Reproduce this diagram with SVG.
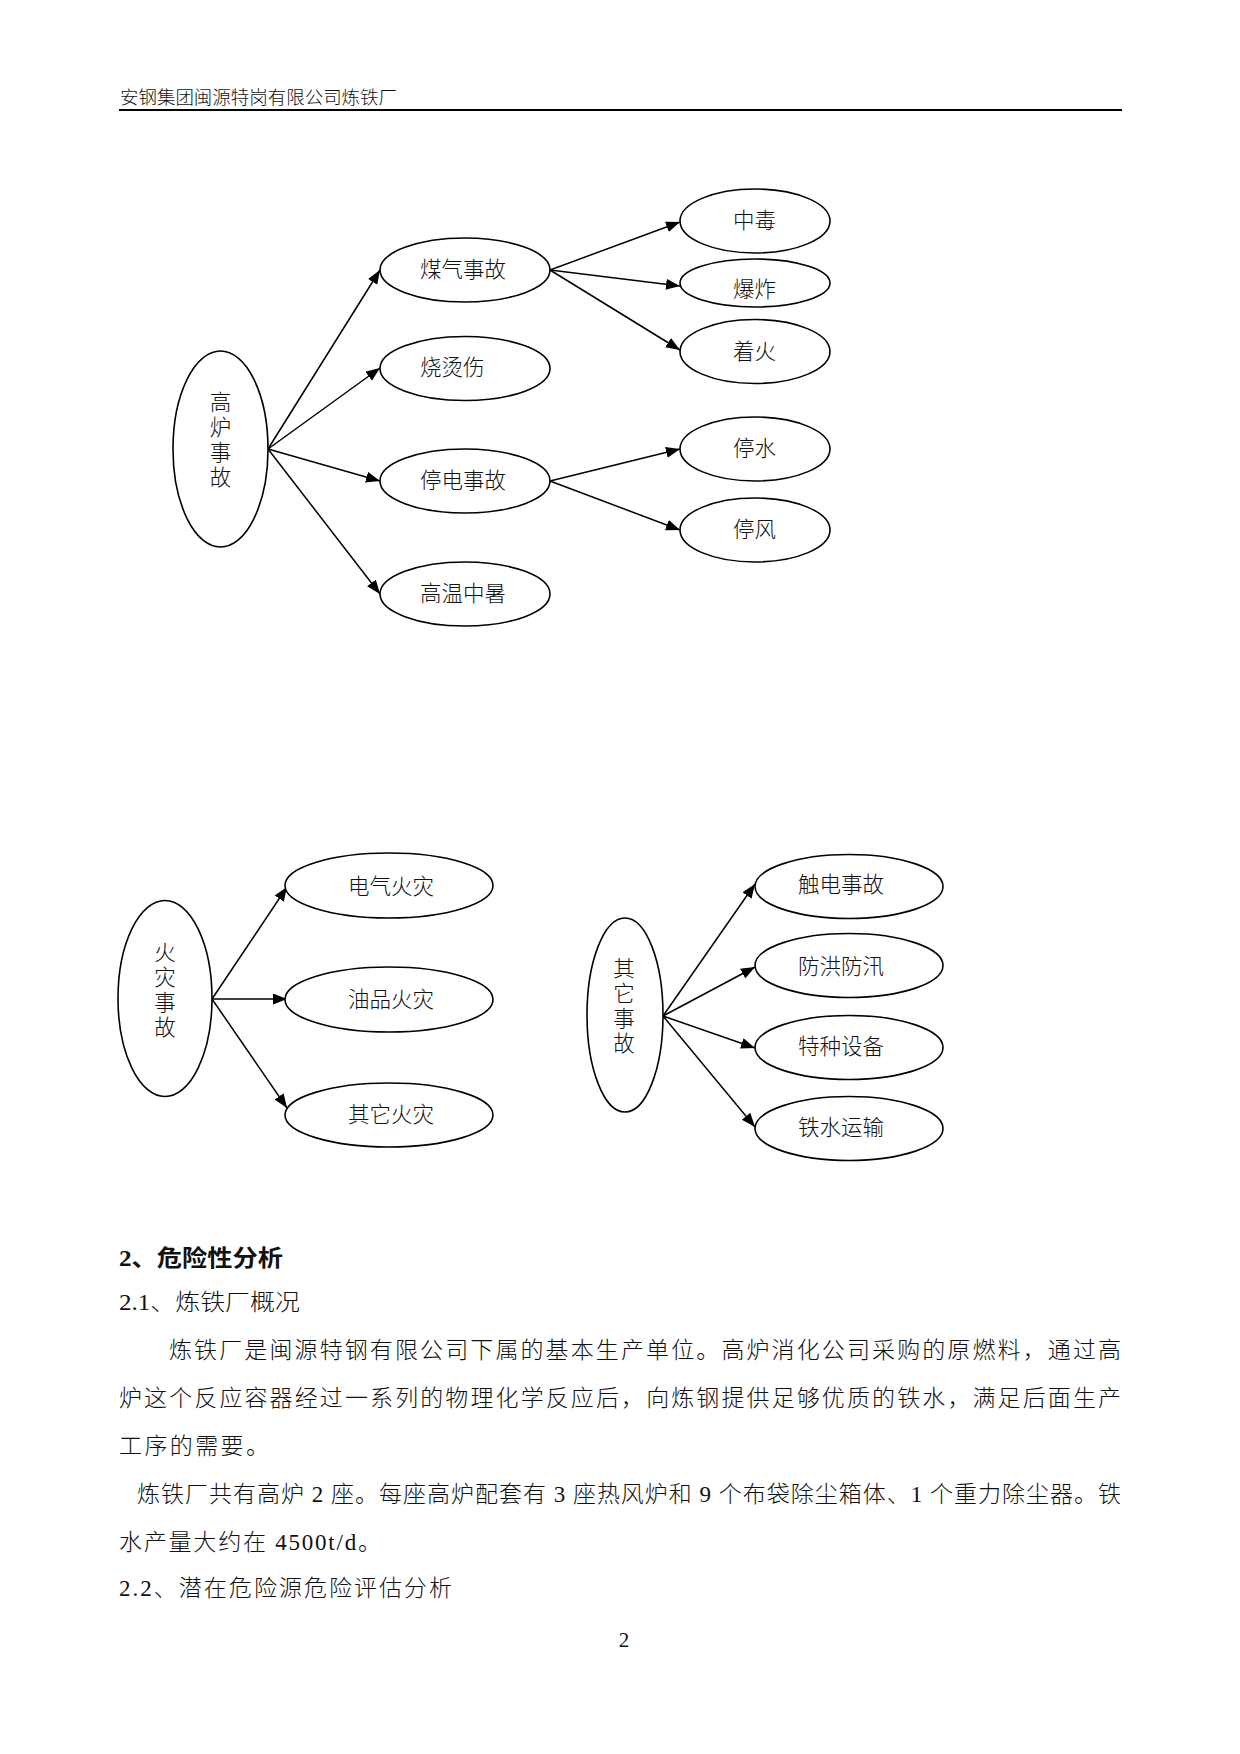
<svg xmlns="http://www.w3.org/2000/svg" width="1240" height="1754" viewBox="0 0 1240 1754">
<defs>
<style>
.bg{fill:#ffffff}
.node ellipse{fill:#ffffff;stroke:#000000;stroke-width:1.6}
.node text{font-family:"Liberation Serif","Noto Sans CJK SC",serif;font-size:21.5px;font-weight:300;fill:#111111}
.vt{text-anchor:middle}
.edge{stroke:#000000;stroke-width:1.5;fill:none;marker-end:url(#arr)}
.hdr{font-family:"Liberation Serif","Noto Sans CJK SC",serif;font-size:18px;font-weight:300;fill:#111111}
.body{font-family:"Liberation Serif","Noto Sans CJK SC",serif;font-size:23px;font-weight:300;fill:#111111}
.bold{font-weight:bold}
</style>
<marker id="arr" markerUnits="userSpaceOnUse" markerWidth="15" markerHeight="12" refX="14" refY="5.5" orient="auto">
<path d="M0,0 L14,5.5 L0,11 z" fill="#000000"/>
</marker>
</defs>
<rect class="bg" x="0" y="0" width="1240" height="1754"/>

<g id="header">
<text class="hdr" x="120" y="104" textLength="277" lengthAdjust="spacingAndGlyphs">安钢集团闽源特岗有限公司炼铁厂</text>
<line x1="119" y1="110" x2="1122" y2="110" stroke="#000000" stroke-width="2.2"/>
</g>

<g id="connectors">
<line class="edge" x1="268" y1="449" x2="380" y2="270"/>
<line class="edge" x1="268" y1="449" x2="380" y2="368"/>
<line class="edge" x1="268" y1="449" x2="380" y2="481"/>
<line class="edge" x1="268" y1="449" x2="380" y2="594"/>
<line class="edge" x1="550" y1="270" x2="680" y2="222"/>
<line class="edge" x1="550" y1="270" x2="680" y2="286"/>
<line class="edge" x1="550" y1="270" x2="680" y2="350"/>
<line class="edge" x1="550" y1="481" x2="680" y2="449"/>
<line class="edge" x1="550" y1="481" x2="680" y2="530"/>
<line class="edge" x1="212" y1="999" x2="287" y2="887"/>
<line class="edge" x1="212" y1="999" x2="287" y2="999"/>
<line class="edge" x1="212" y1="999" x2="287" y2="1108"/>
<line class="edge" x1="663" y1="1016" x2="755" y2="884"/>
<line class="edge" x1="663" y1="1016" x2="755" y2="967"/>
<line class="edge" x1="663" y1="1016" x2="755" y2="1048"/>
<line class="edge" x1="663" y1="1016" x2="755" y2="1127"/>
</g>

<g id="n-gaolu" class="node">
<ellipse cx="220.5" cy="449" rx="47.5" ry="98"/>
<text class="vt" x="220.5" y="410">高</text>
<text class="vt" x="220.5" y="435">炉</text>
<text class="vt" x="220.5" y="460">事</text>
<text class="vt" x="220.5" y="485">故</text>
</g>
<g id="n-meiqi" class="node">
<ellipse cx="465" cy="270" rx="85" ry="32"/>
<text x="420" y="277">煤气事故</text>
</g>
<g id="n-shaotang" class="node">
<ellipse cx="465" cy="368.5" rx="85" ry="32"/>
<text x="420" y="375">烧烫伤</text>
</g>
<g id="n-tingdian" class="node">
<ellipse cx="465" cy="481" rx="85" ry="32"/>
<text x="420" y="488">停电事故</text>
</g>
<g id="n-gaowen" class="node">
<ellipse cx="465" cy="594" rx="85" ry="32"/>
<text x="420" y="601">高温中暑</text>
</g>
<g id="n-zhongdu" class="node">
<ellipse cx="755" cy="221" rx="75" ry="32"/>
<text x="733" y="228">中毒</text>
</g>
<g id="n-baozha" class="node">
<ellipse cx="755" cy="283" rx="75" ry="24"/>
<text x="733" y="297">爆炸</text>
</g>
<g id="n-zhaohuo" class="node">
<ellipse cx="755" cy="351.5" rx="75" ry="32"/>
<text x="733" y="359">着火</text>
</g>
<g id="n-tingshui" class="node">
<ellipse cx="755" cy="449" rx="75" ry="32"/>
<text x="733" y="456">停水</text>
</g>
<g id="n-tingfeng" class="node">
<ellipse cx="755" cy="530" rx="75" ry="32"/>
<text x="733" y="537">停风</text>
</g>

<g id="n-huozai" class="node">
<ellipse cx="165" cy="998.5" rx="47" ry="98"/>
<text class="vt" x="165" y="960">火</text>
<text class="vt" x="165" y="985">灾</text>
<text class="vt" x="165" y="1010">事</text>
<text class="vt" x="165" y="1035">故</text>
</g>
<g id="n-dianqi" class="node">
<ellipse cx="389" cy="885.5" rx="104" ry="32.5"/>
<text x="348" y="894">电气火灾</text>
</g>
<g id="n-youpin" class="node">
<ellipse cx="389" cy="999.5" rx="104" ry="32.5"/>
<text x="348" y="1007">油品火灾</text>
</g>
<g id="n-qitahuozai" class="node">
<ellipse cx="389" cy="1115" rx="104" ry="32"/>
<text x="348" y="1122">其它火灾</text>
</g>

<g id="n-qita" class="node">
<ellipse cx="625" cy="1015" rx="38" ry="97"/>
<text class="vt" x="624" y="976">其</text>
<text class="vt" x="624" y="1001">它</text>
<text class="vt" x="624" y="1026">事</text>
<text class="vt" x="624" y="1051">故</text>
</g>
<g id="n-chudian" class="node">
<ellipse cx="849" cy="886.5" rx="94" ry="32"/>
<text x="798" y="892">触电事故</text>
</g>
<g id="n-fanghong" class="node">
<ellipse cx="849" cy="965.5" rx="94" ry="32"/>
<text x="798" y="974">防洪防汛</text>
</g>
<g id="n-tezhong" class="node">
<ellipse cx="849" cy="1047.5" rx="94" ry="32"/>
<text x="798" y="1054">特种设备</text>
</g>
<g id="n-tieshui" class="node">
<ellipse cx="849" cy="1128.5" rx="94" ry="32"/>
<text x="798" y="1135">铁水运输</text>
</g>

<g id="body">
<text class="body bold" x="119" y="1266" textLength="164" lengthAdjust="spacingAndGlyphs">2、危险性分析</text>
<text class="body" x="119" y="1310" textLength="181" lengthAdjust="spacingAndGlyphs">2.1、炼铁厂概况</text>
<text class="body" x="169" y="1358" textLength="952" lengthAdjust="spacing">炼铁厂是闽源特钢有限公司下属的基本生产单位。高炉消化公司采购的原燃料，通过高</text>
<text class="body" x="119" y="1406" textLength="1002" lengthAdjust="spacing">炉这个反应容器经过一系列的物理化学反应后，向炼钢提供足够优质的铁水，满足后面生产</text>
<text class="body" x="119" y="1454" textLength="150" lengthAdjust="spacing">工序的需要。</text>
<text class="body" x="137" y="1502" textLength="984" lengthAdjust="spacing">炼铁厂共有高炉 2 座。每座高炉配套有 3 座热风炉和 9 个布袋除尘箱体、1 个重力除尘器。铁</text>
<text class="body" x="119" y="1550" textLength="262" lengthAdjust="spacing">水产量大约在 4500t/d。</text>
<text class="body" x="119" y="1596" textLength="333" lengthAdjust="spacing">2.2、潜在危险源危险评估分析</text>
<text class="body" x="624" y="1647" text-anchor="middle" style="font-size:21px">2</text>
</g>
</svg>
